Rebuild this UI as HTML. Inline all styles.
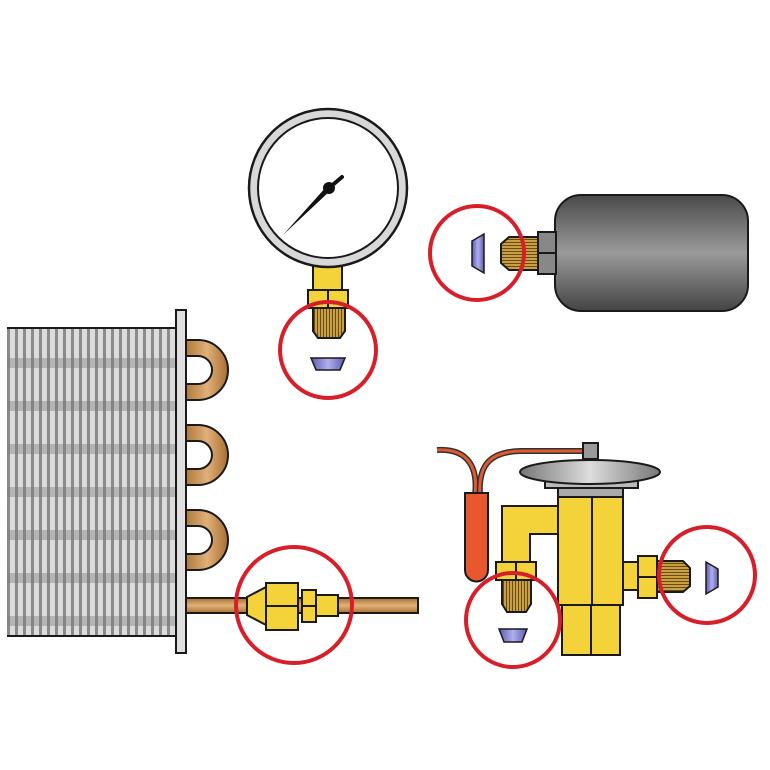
<!DOCTYPE html>
<html><head><meta charset="utf-8"><style>html,body{margin:0;padding:0;background:#fff}svg{display:block}</style></head>
<body>
<svg width="770" height="770" viewBox="0 0 770 770" xmlns="http://www.w3.org/2000/svg">
<defs>
<linearGradient id="tank" x1="0" y1="0" x2="0" y2="1">
<stop offset="0" stop-color="#4a4a4a"/><stop offset="0.5" stop-color="#9a9a9a"/><stop offset="1" stop-color="#444"/></linearGradient>
<linearGradient id="cu" x1="0" y1="0" x2="1" y2="0">
<stop offset="0" stop-color="#b07a3a"/><stop offset="0.5" stop-color="#e0b07a"/><stop offset="1" stop-color="#a86e30"/></linearGradient>
<linearGradient id="pipe" x1="0" y1="0" x2="0" y2="1">
<stop offset="0" stop-color="#a8702e"/><stop offset="0.5" stop-color="#e2b27a"/><stop offset="1" stop-color="#a8702e"/></linearGradient>
<linearGradient id="seat" x1="0" y1="0" x2="1" y2="0">
<stop offset="0" stop-color="#5a5ab0"/><stop offset="0.5" stop-color="#b0b0ee"/><stop offset="1" stop-color="#5a5ab0"/></linearGradient>
<linearGradient id="diap" x1="0" y1="0" x2="1" y2="0">
<stop offset="0" stop-color="#777"/><stop offset="0.5" stop-color="#ddd"/><stop offset="1" stop-color="#777"/></linearGradient>
<pattern id="fins" width="8" height="43" patternUnits="userSpaceOnUse" x="7" y="328">
<rect width="8" height="43" fill="#dcdcdc"/><rect x="0" width="3" height="43" fill="#8a8a8a"/>
<rect y="30" width="8" height="10" fill="#777" opacity="0.4"/></pattern>
<pattern id="thr" width="40" height="3" patternUnits="userSpaceOnUse">
<rect width="40" height="3" fill="#c8a040"/><rect y="2" width="40" height="1" fill="#6a4a10"/></pattern>
<pattern id="thrv" width="3" height="40" patternUnits="userSpaceOnUse">
<rect width="3" height="40" fill="#c8a040"/><rect x="2" width="1" height="40" fill="#6a4a10"/></pattern>
</defs>
<g stroke="#1a1a1a" stroke-width="2">
<!-- coil -->
<rect x="7" y="328" width="170" height="308" fill="url(#fins)" stroke="none"/>
<line x1="7" y1="328" x2="177" y2="328"/><line x1="7" y1="636" x2="177" y2="636"/>
<path d="M186 340 H198 a30 30 0 0 1 0 60 H186 V384 H198 a13 13 0 0 0 0 -28 H186 Z" fill="url(#cu)"/>
<path d="M186 425 H198 a30 30 0 0 1 0 60 H186 V469 H198 a13 13 0 0 0 0 -28 H186 Z" fill="url(#cu)"/>
<path d="M186 510 H198 a30 30 0 0 1 0 60 H186 V554 H198 a13 13 0 0 0 0 -28 H186 Z" fill="url(#cu)"/>
<rect x="176" y="310" width="10" height="343" fill="#e0e0e0"/>
<rect x="186" y="598" width="232" height="15" fill="url(#pipe)"/>
<path d="M247 597 L266 587 V625 L247 615 Z" fill="#f4d23a"/>
<rect x="266" y="583" width="32" height="47" fill="#f4d23a"/><line x1="266" y1="606" x2="298" y2="606"/>
<rect x="302" y="590" width="14" height="32" fill="#f4d23a"/><line x1="302" y1="606" x2="316" y2="606"/>
<rect x="316" y="595" width="22" height="21" fill="#f4d23a"/>
<!-- gauge -->
<rect x="313" y="265" width="29" height="26" fill="#f4d23a"/>
<circle cx="328" cy="188" r="79" fill="#d8d8d8" stroke-width="2.5"/>
<circle cx="328" cy="188" r="70" fill="#fff"/>
<rect x="308" y="290" width="40" height="18" fill="#f4d23a"/><line x1="328" y1="290" x2="328" y2="308"/>
<path d="M313 308 H345 V331 L340 338 H318 L313 331 Z" fill="url(#thrv)"/>
<path d="M311 358 H345 L340 370 H316 Z" fill="url(#seat)" stroke-width="1.5"/>
<!-- tank -->
<rect x="555" y="195" width="193" height="116" rx="26" fill="url(#tank)"/>
<rect x="538" y="232" width="18" height="42" fill="#888"/><line x1="538" y1="253" x2="556" y2="253"/>
<path d="M538 237 V270 H509 L501 263 V244 L509 237 Z" fill="url(#thr)"/>
<path d="M484 234 V273 L472 266 V241 Z" fill="url(#seat)" stroke-width="1.5"/>
<!-- valve -->
<path d="M437 450 C470 448 478 470 475 495" fill="none" stroke="#333" stroke-width="6"/>
<path d="M437 450 C470 448 478 470 475 495" fill="none" stroke="#e05a30" stroke-width="3"/>
<path d="M480 495 C478 465 490 452 520 451 H585" fill="none" stroke="#333" stroke-width="6"/>
<path d="M480 495 C478 465 490 452 520 451 H585" fill="none" stroke="#e05a30" stroke-width="3"/>
<path d="M465 493 H488 V570 a11.5 11.5 0 0 1 -23 0 Z" fill="#e8582e"/>
<rect x="583" y="443" width="15" height="16" fill="#999"/>
<rect x="558" y="486" width="65" height="11" fill="#aaa"/>
<rect x="545" y="476" width="93" height="12" fill="#bbb"/>
<ellipse cx="590" cy="472" rx="70" ry="12" fill="url(#diap)"/>
<path d="M502 563 V506 H558 V534 H530 V563 Z" fill="#f4d23a"/>
<rect x="558" y="497" width="65" height="108" fill="#f4d23a"/><line x1="592" y1="497" x2="592" y2="605"/>
<rect x="562" y="605" width="58" height="50" fill="#f4d23a"/><line x1="591" y1="605" x2="591" y2="655"/>
<rect x="496" y="562" width="40" height="18" fill="#f4d23a"/><line x1="516" y1="562" x2="516" y2="580"/>
<path d="M502 580 H531 V604 L526 612 H507 L502 604 Z" fill="url(#thrv)"/>
<path d="M499 629 H527 L522 642 H504 Z" fill="url(#seat)" stroke-width="1.5"/>
<rect x="623" y="562" width="16" height="28" fill="#f4d23a"/>
<rect x="638" y="556" width="19" height="42" fill="#f4d23a"/><line x1="638" y1="577" x2="657" y2="577"/>
<path d="M657 561 H683 L690 568 V586 L683 592 H657 Z" fill="url(#thr)"/>
<path d="M706 562 V594 L718 587 V569 Z" fill="url(#seat)" stroke-width="1.5"/>
</g>
<!-- needle -->
<path d="M283 235 L327 186 L331 190 Z" fill="#111"/>
<circle cx="329" cy="188" r="6" fill="#111"/>
<line x1="329" y1="188" x2="342" y2="177" stroke="#111" stroke-width="4" stroke-linecap="round"/>
<!-- red circles -->
<g fill="none" stroke="#d81e28" stroke-width="4">
<circle cx="328" cy="350" r="48"/>
<circle cx="477" cy="253" r="47"/>
<circle cx="294" cy="605" r="58"/>
<circle cx="513" cy="620" r="47"/>
<circle cx="707" cy="575" r="48"/>
</g>
</svg>
</body></html>
